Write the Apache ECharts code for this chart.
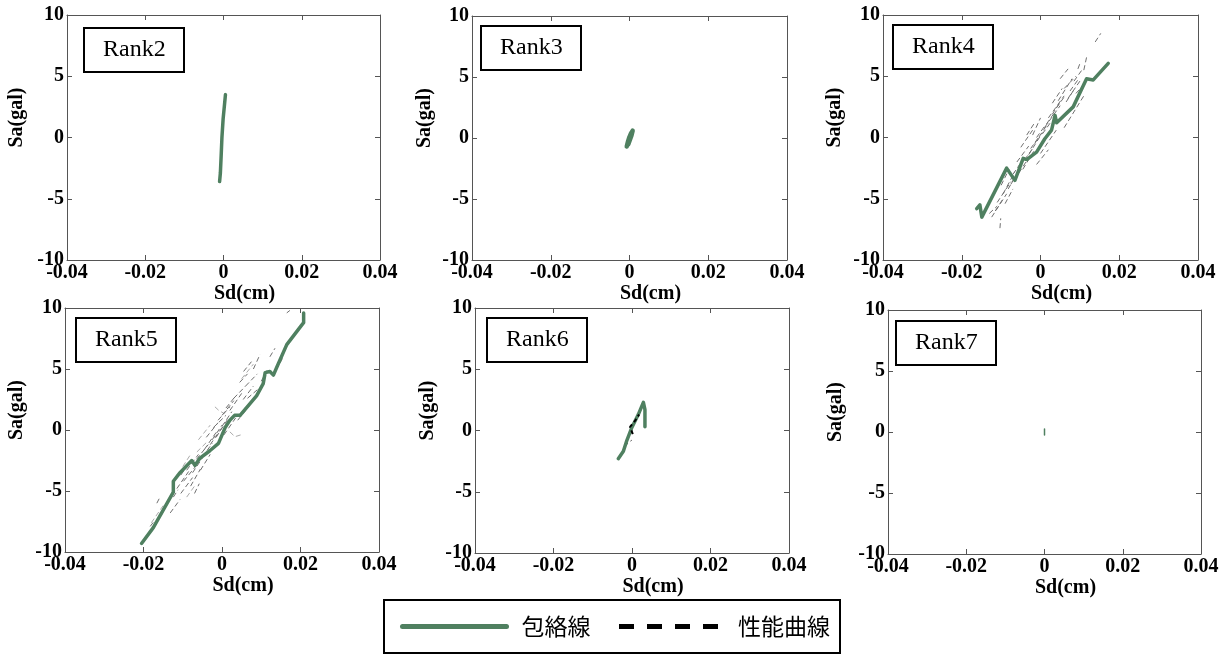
<!DOCTYPE html>
<html><head><meta charset="utf-8">
<script src="https://cdn.jsdelivr.net/npm/echarts@6/dist/echarts.min.js"></script>
<style>html,body{margin:0;padding:0;background:#fff}#c{width:1228px;height:654px}</style>
</head><body><div id="c"></div><script>
// ---------- data ----------
const panelNames = ['Rank2', 'Rank3', 'Rank4', 'Rank5', 'Rank6', 'Rank7'];
const xRange = [-0.04, 0.04];
const xStep = 0.02;
const yRange = [-10, 10];
const yStep = 5;
const xAxisName = 'Sd(cm)';
const yAxisName = 'Sa(gal)';
const legendNames = ['包絡線', '性能曲線'];

const rank2Envelope = [[-0.0010,-3.6],[-0.0008,-2.9],[-0.0006,-1.5],[-0.0004,0.0],[-0.0001,1.5],[0.0002,2.5],[0.0005,3.5]];
const rank3Envelope = [[-0.0007,-0.7],[-0.0004,-0.3],[0.0000,0.1],[0.0004,0.4],[0.0008,0.6],[0.0005,0.2],[-0.0003,-0.5]];
const rank4Envelope = [[-0.0162,-5.8],[-0.0154,-5.5],[-0.0149,-6.5],[-0.0086,-2.5],[-0.0065,-3.5],[-0.0044,-1.7],[-0.0035,-1.8],[-0.0010,-1.2],[0.0011,-0.1],[0.0028,0.6],[0.0037,1.8],[0.0041,1.2],[0.0083,2.5],[0.0117,4.8],[0.0134,4.7],[0.0172,6.05]];
const rank5Envelope = [[-0.0205,-9.3],[-0.0175,-8.0],[-0.0124,-5.1],[-0.0124,-4.2],[-0.0107,-3.5],[-0.0077,-2.5],[-0.0069,-2.9],[-0.0056,-2.3],[-0.0031,-1.7],[-0.0009,-1.1],[0.0008,0.2],[0.0020,0.8],[0.0032,1.2],[0.0046,1.2],[0.0088,2.8],[0.0105,3.8],[0.0110,4.7],[0.0122,4.8],[0.0131,4.5],[0.0139,5.1],[0.0165,7.0],[0.0203,8.6],[0.0208,8.8],[0.0208,9.6]];
const rank6Envelope = [[-0.0035,-2.3],[-0.0022,-1.7],[-0.0013,-0.8],[-0.0001,0.2],[0.0016,1.3],[0.0029,2.3],[0.0033,1.7],[0.0033,0.3]];
const rank7Envelope = [[0.0000,-0.25],[0.0000,0.25]];

const rank6Performance = [[0.0002,-0.3],[-0.0005,0.3],[0.0008,0.8],[0.0018,1.3]];

const rank4Response = [
  [[-0.0103,-7.4],[-0.0101,-6.6]],
  [[-0.0124,-6.5],[-0.0086,-4.6]],
  [[-0.0110,-5.3],[-0.0075,-3.6]],
  [[-0.0095,-4.6],[-0.0065,-2.8]],
  [[-0.0100,-3.9],[-0.0080,-2.6]],
  [[-0.0082,-4.2],[-0.0050,-2.4]],
  [[-0.0070,-3.0],[-0.0040,-1.6]],
  [[-0.0060,-2.0],[-0.0030,-0.7]],
  [[-0.0045,-2.6],[-0.0015,-1.0]],
  [[-0.0050,-0.8],[-0.0020,0.6]],
  [[-0.0030,-1.4],[0.0005,0.4]],
  [[-0.0015,-0.5],[0.0020,1.2]],
  [[-0.0020,0.2],[0.0000,1.6]],
  [[0.0000,-1.3],[0.0040,0.6]],
  [[-0.0010,-2.2],[0.0020,-1.0]],
  [[0.0010,0.8],[0.0050,2.6]],
  [[0.0020,1.6],[0.0060,3.4]],
  [[0.0030,2.8],[0.0055,4.0]],
  [[0.0045,3.0],[0.0080,4.8]],
  [[0.0060,4.0],[0.0090,5.0]],
  [[0.0050,4.8],[0.0070,5.6]],
  [[0.0070,3.2],[0.0100,4.6]],
  [[0.0060,0.8],[0.0110,3.4]],
  [[0.0085,4.6],[0.0105,5.5]],
  [[0.0110,5.5],[0.0118,6.7]],
  [[0.0139,7.8],[0.0153,8.5]],
  [[-0.0130,-6.2],[-0.0110,-5.6]],
  [[-0.0115,-6.0],[-0.0095,-5.0]],
  [[-0.0090,-5.4],[-0.0070,-4.2]],
  [[-0.0075,-3.8],[-0.0055,-2.8]],
  [[-0.0055,-2.9],[-0.0035,-1.9]],
  [[-0.0040,-1.8],[-0.0020,-0.9]],
  [[-0.0025,-0.9],[-0.0005,0.0]],
  [[-0.0010,0.0],[0.0010,0.9]],
  [[0.0005,0.3],[0.0025,1.2]],
  [[0.0015,1.1],[0.0035,2.0]],
  [[0.0030,1.9],[0.0050,2.9]],
  [[0.0040,2.4],[0.0060,3.3]],
  [[0.0065,2.9],[0.0085,3.9]],
  [[0.0075,3.8],[0.0095,4.7]],
  [[0.0090,3.6],[0.0110,4.3]],
  [[-0.0035,0.2],[-0.0015,1.2]],
  [[0.0095,5.6],[0.0102,6.2]]
];
const rank5Response = [
  [[-0.0183,-7.9],[-0.0171,-7.4]],
  [[-0.0166,-6.0],[-0.0158,-5.5]],
  [[-0.0132,-6.8],[-0.0107,-5.7]],
  [[-0.0124,-5.5],[-0.0112,-4.9]],
  [[-0.0115,-4.8],[-0.0085,-3.4]],
  [[-0.0105,-5.2],[-0.0075,-3.9]],
  [[-0.0098,-4.2],[-0.0065,-2.9]],
  [[-0.0090,-3.3],[-0.0060,-2.0]],
  [[-0.0080,-4.6],[-0.0055,-3.2]],
  [[-0.0070,-5.2],[-0.0058,-4.4]],
  [[-0.0065,-2.4],[-0.0035,-1.2]],
  [[-0.0055,-3.3],[-0.0030,-2.0]],
  [[-0.0045,-1.6],[-0.0015,-0.2]],
  [[-0.0040,-0.6],[-0.0010,0.6]],
  [[-0.0030,-1.2],[0.0000,0.2]],
  [[-0.0022,0.2],[0.0010,1.2]],
  [[-0.0015,-0.6],[0.0015,0.9]],
  [[-0.0010,0.8],[0.0020,1.9]],
  [[0.0000,1.2],[0.0030,2.4]],
  [[0.0005,-0.4],[0.0035,1.0]],
  [[0.0020,1.6],[0.0050,3.0]],
  [[0.0030,2.6],[0.0060,3.6]],
  [[0.0040,0.8],[0.0070,2.0]],
  [[0.0054,2.5],[0.0080,3.6]],
  [[0.0060,3.6],[0.0090,4.6]],
  [[0.0055,4.8],[0.0075,5.6]],
  [[0.0080,5.0],[0.0097,6.2]],
  [[0.0100,4.0],[0.0115,4.9]],
  [[0.0122,6.0],[0.0135,6.7]],
  [[0.0148,5.5],[0.0156,6.0]],
  [[0.0165,9.6],[0.0173,9.8]],
  [[-0.0075,-3.5],[-0.0050,-2.3]],
  [[-0.0050,-2.2],[-0.0025,-1.1]],
  [[-0.0025,-0.8],[0.0000,0.4]],
  [[0.0000,0.3],[0.0025,1.5]],
  [[0.0010,1.8],[0.0035,2.8]],
  [[0.0065,2.6],[0.0090,3.3]],
  [[0.0045,3.9],[0.0065,4.6]],
  [[-0.0105,-3.7],[-0.0090,-3.0]]
];
const rank5ResponseLight = [
  [[-0.0018,1.9],[-0.0008,1.6],[0.0003,1.4]],
  [[0.0020,-0.15],[0.0033,-0.55],[0.0048,-0.4]],
  [[-0.0064,-1.8],[-0.0039,-1.0]],
  [[-0.0060,-0.8],[-0.0030,0.4]],
  [[-0.0100,-3.0],[-0.0080,-2.0]],
  [[-0.0180,-7.6],[-0.0150,-6.2]],
  [[0.0050,4.2],[0.0080,5.4]],
  [[-0.0090,-5.5],[-0.0070,-4.6]]
];
const rank6Response = [
  [[-0.0018,-1.35],[-0.0010,-1.0],[0.0000,-0.78]]
];

// ---------- layout (positions only) ----------
const layout = [
  {grid:{left:67, top:15, width:313, height:245}, box:{left:84, top:28}, xGap:24, yGap:40},
  {grid:{left:472,top:16, width:315, height:244}, box:{left:481,top:26}, xGap:24, yGap:37},
  {grid:{left:883,top:15, width:315, height:245}, box:{left:893,top:25}, xGap:23, yGap:38},
  {grid:{left:65, top:308,width:314, height:244}, box:{left:76, top:318}, xGap:11, yGap:38},
  {grid:{left:475,top:308,width:314, height:245}, box:{left:487,top:318}, xGap:19, yGap:37},
  {grid:{left:888,top:310,width:313, height:244}, box:{left:896,top:321}, xGap:17, yGap:42}
];

const GREEN = '#4f8060';
const FRAME = '#555';
const serif = 'Liberation Serif';
const envelopes = [rank2Envelope, rank3Envelope, rank4Envelope, rank5Envelope, rank6Envelope, rank7Envelope];
const envWidth = [3.5, 4.5, 3.5, 3.5, 3.5, 1.5];

function segs(list) {
  const out = [];
  list.forEach((s, k) => { if (k) out.push(['-', '-']); s.forEach(p => out.push(p)); });
  return out;
}

const grids = [], xAxes = [], yAxes = [], titles = [], series = [];
layout.forEach((L, i) => {
  grids.push(Object.assign({containLabel:false}, L.grid));
  titles.push({
    text: panelNames[i], left: L.box.left, top: L.box.top,
    padding: [10, 19, 10, 19], borderColor: '#000', borderWidth: 2,
    textStyle: {fontFamily: serif, fontWeight: 'normal', fontSize: 24, color: '#000'}
  });
  const xCommon = {type:'value', gridIndex:i, min:xRange[0], max:xRange[1], interval:xStep,
    splitLine:{show:false},
    axisLine:{show:true, onZero:false, lineStyle:{color:FRAME, width:1}},
    axisTick:{show:true, inside:true, length:5, lineStyle:{color:FRAME}}};
  xAxes.push(Object.assign({}, xCommon, {position:'bottom',
    name: xAxisName, nameLocation:'middle', nameGap:L.xGap,
    nameTextStyle:{fontFamily:serif, fontWeight:'bold', fontSize:20, color:'#000', padding:[0,0,0,42]},
    axisLabel:{show:true, margin:3, fontFamily:serif, fontWeight:'bold', fontSize:20, color:'#000',
      formatter: v => (Math.abs(v) < 1e-9 ? '0' : v.toFixed(2))}}));
  xAxes.push(Object.assign({}, xCommon, {position:'top', axisLabel:{show:false}}));
  const yCommon = {type:'value', gridIndex:i, min:yRange[0], max:yRange[1], interval:yStep,
    splitLine:{show:false},
    axisLine:{show:true, onZero:false, lineStyle:{color:FRAME, width:1}},
    axisTick:{show:true, inside:true, length:5, lineStyle:{color:FRAME}}};
  yAxes.push(Object.assign({}, yCommon, {position:'left',
    name: yAxisName, nameLocation:'middle', nameGap:L.yGap,
    nameTextStyle:{fontFamily:serif, fontWeight:'bold', fontSize:20, color:'#000', padding:[0,0,0,40]},
    axisLabel:{show:true, margin:3, fontFamily:serif, fontWeight:'bold', fontSize:20, color:'#000'}}));
  yAxes.push(Object.assign({}, yCommon, {position:'right', axisLabel:{show:false}}));

  const xi = 2 * i, yi = 2 * i;
  const responses = [null, null, rank4Response, rank5Response, rank6Response, null][i];
  if (responses) {
    series.push({name:'応答', type:'line', xAxisIndex:xi, yAxisIndex:yi, data:segs(responses),
      symbol:'none', connectNulls:false, silent:true, z:2,
      lineStyle:{color:'#707070', width:1, type:[5,3]}});
  }
  if (i === 3) {
    series.push({name:'応答2', type:'line', xAxisIndex:xi, yAxisIndex:yi, data:segs(rank5ResponseLight),
      symbol:'none', connectNulls:false, silent:true, z:2,
      lineStyle:{color:'#ababab', width:1, type:[5,3]}});
  }
  series.push({name:legendNames[0], type:'line', xAxisIndex:xi, yAxisIndex:yi, data:envelopes[i],
    symbol:'none', z:3, lineStyle:{color:GREEN, width:envWidth[i], join:'round', cap:'round'}});
  if (i === 4) {
    series.push({name:legendNames[1], type:'line', xAxisIndex:xi, yAxisIndex:yi, data:rank6Performance,
      symbol:'none', z:4, lineStyle:{color:'#000', width:2, type:[4,3]}});
  }
});

const chart = echarts.init(document.getElementById('c'), null, {renderer:'canvas'});
chart.setOption({
  animation:false,
  backgroundColor:'#fff',
  color:[GREEN, '#000'],
  title: titles,
  grid: grids,
  xAxis: xAxes,
  yAxis: yAxes,
  legend: {
    left:384, top:600, orient:'horizontal',
    padding:[15, 10, 15, 16],
    borderColor:'#000', borderWidth:2,
    itemWidth:104, itemHeight:20, itemGap:26,
    textStyle:{fontFamily:'Noto Sans CJK JP', fontSize:23, color:'#000', padding:[0,0,0,10]},
    data:[
      {name:legendNames[0], itemStyle:{opacity:0}, lineStyle:{color:GREEN, width:5}},
      {name:legendNames[1], itemStyle:{opacity:0}, lineStyle:{color:'#000', width:5, type:[15,13]}}
    ]
  },
  series: series
});
</script></body></html>
